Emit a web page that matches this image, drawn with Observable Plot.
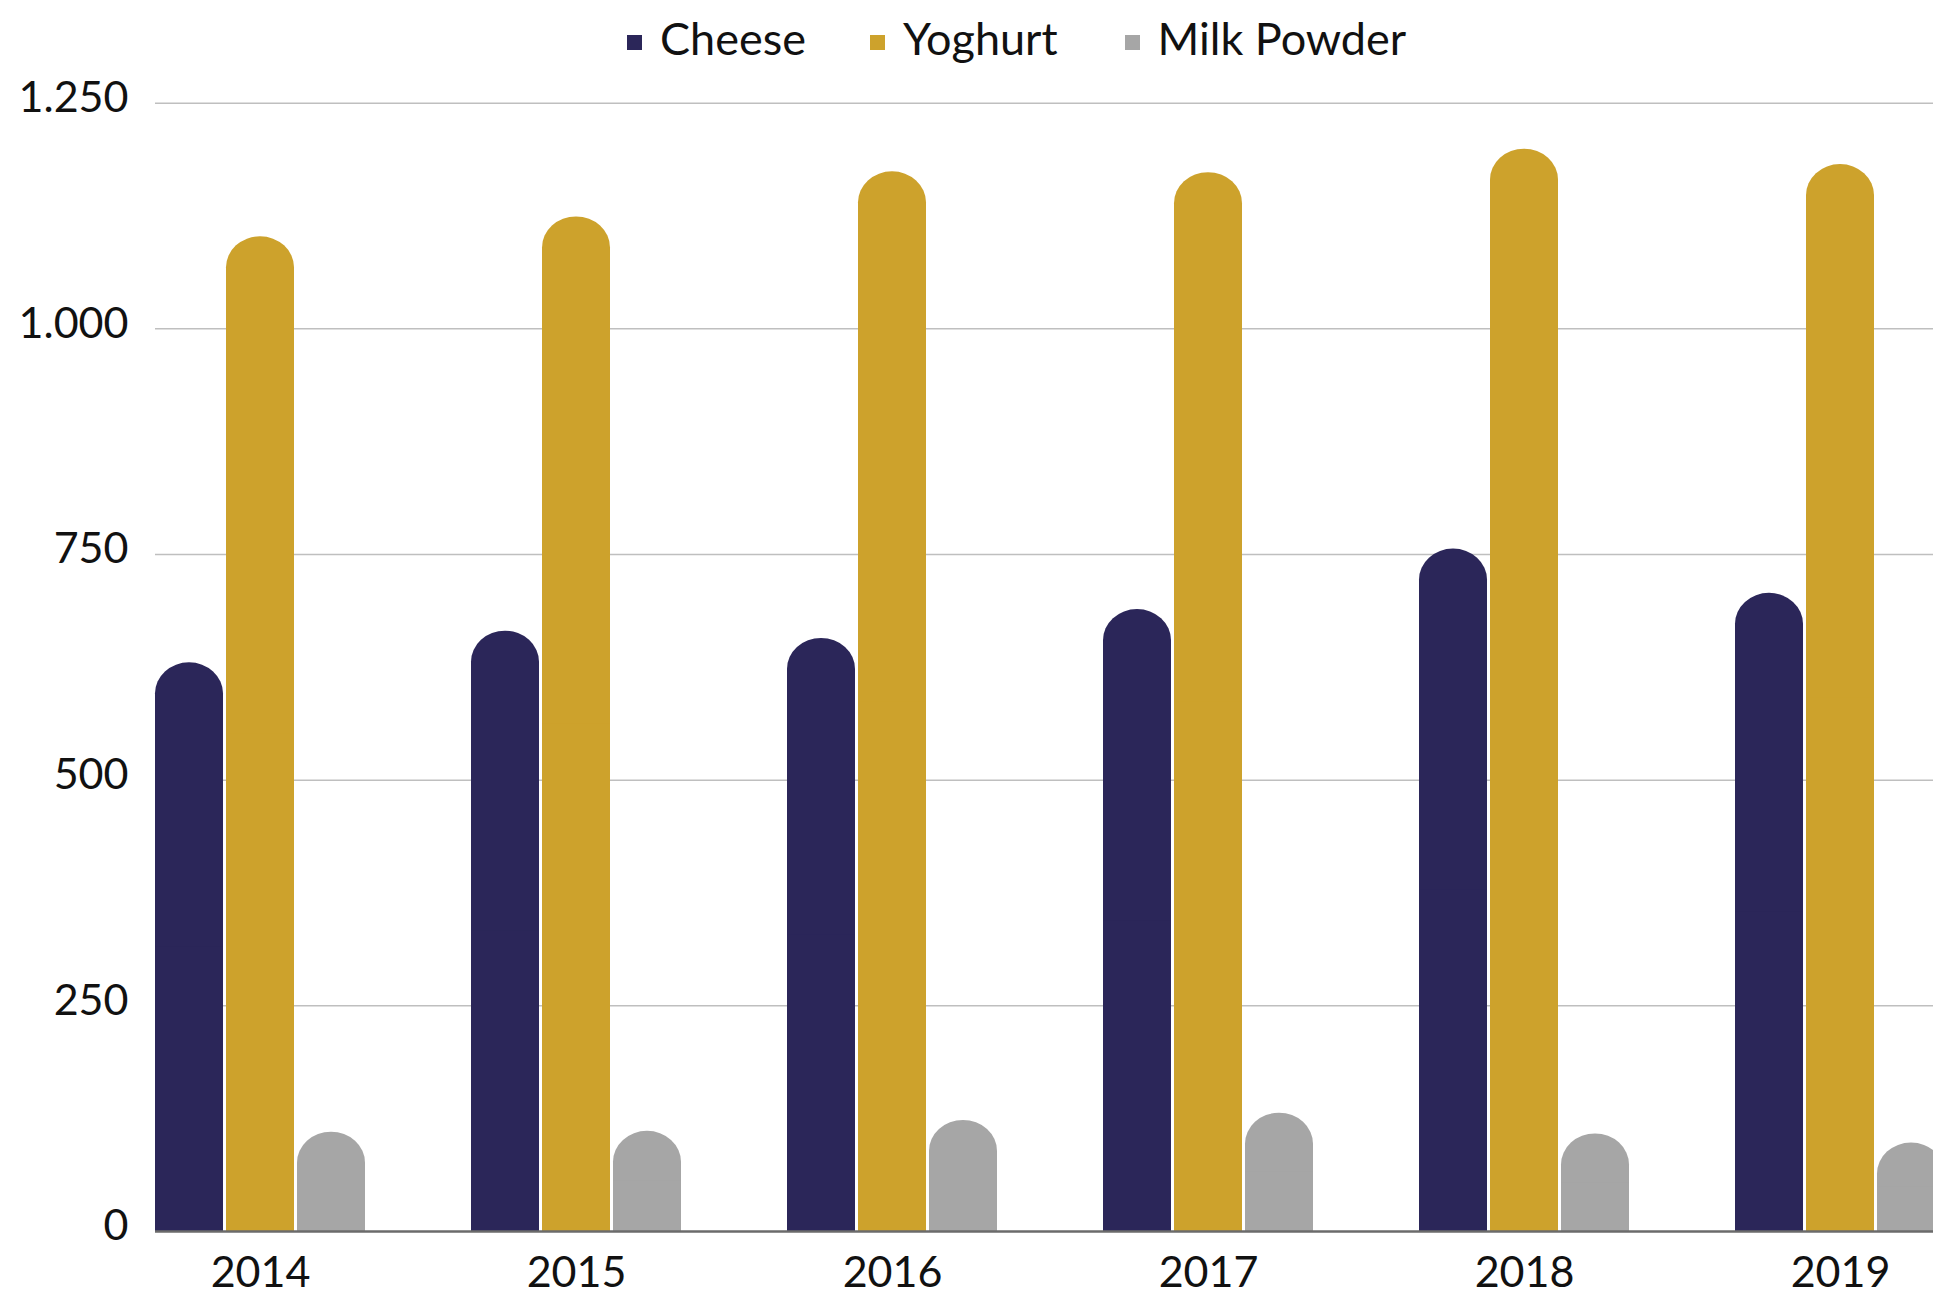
<!DOCTYPE html>
<html>
<head>
<meta charset="utf-8">
<script src="https://cdn.jsdelivr.net/npm/d3@7"></script>
<script src="https://cdn.jsdelivr.net/npm/@observablehq/plot@0.6"></script>
<style>
  html, body { margin: 0; padding: 0; background: #fff; overflow: hidden; }
  body { width: 1933px; height: 1295px; font-family: Lato, "Noto Sans", sans-serif; }
  #legend { height: 56px; padding-top: 20px; display: flex; align-items: center; justify-content: flex-start; padding-left: 627px; box-sizing: border-box; font-size: 45px; color: #111; line-height: 1; }
  .item { display: flex; align-items: center; }
  .item:nth-child(1) { margin-right: 64px; }
  .item:nth-child(2) { margin-right: 67px; }
  .sw { width: 15px; height: 15px; margin-right: 18px; margin-top: 9px; }
  #chart svg { display: block; overflow: hidden; }
</style>
</head>
<body>
<div id="legend"></div>
<div id="chart"></div>
<script>
const years = ["2014", "2015", "2016", "2017", "2018", "2019"];
const series = ["Cheese", "Yoghurt", "Milk Powder"];
const cheese = [630, 665, 657, 689, 756, 707];
const yoghurt = [1102, 1124, 1174, 1173, 1199, 1182];
const milkPowder = [110, 111, 123, 131, 108, 98];
const yTicks = [0, 250, 500, 750, 1000, 1250];
const colors = ["#2b2659", "#cda22c", "#a6a6a6"];

const valuesBySeries = [cheese, yoghurt, milkPowder];
const rows = [];
series.forEach((s, i) => years.forEach((y, j) => rows.push({year: y, series: s, value: valuesBySeries[i][j]})));

const fmt = d3.formatLocale({decimal: ",", thousands: ".", grouping: [3], currency: ["", "€"]}).format(",");

// legend
const legend = document.getElementById("legend");
series.forEach((s, i) => {
  const it = document.createElement("div");
  it.className = "item";
  const sw = document.createElement("span");
  sw.className = "sw";
  sw.style.background = colors[i];
  const t = document.createElement("span");
  t.textContent = s;
  it.appendChild(sw); it.appendChild(t);
  legend.appendChild(it);
});

const LEG = 56;
const W = 1933, H = 1295 - LEG;
const step = 316, bw = 210, gap = 3, barW = (bw - 2 * gap) / 3;
const pInner = 1 - bw / step, pOuter = pInner / 2;
const x0 = 155 - step * pOuter;
const insets = [
  {insetLeft: 0, insetRight: bw - barW},
  {insetLeft: barW + gap, insetRight: barW + gap},
  {insetLeft: bw - barW, insetRight: 0}
];

const barMarks = [];
series.forEach((s, i) => {
  const d = rows.filter(r => r.series === s);
  barMarks.push(Plot.barY(d, {x: "year", y: "value", fill: "series", rx: 34, ry: 31, ...insets[i]}));
  barMarks.push(Plot.barY(d, {x: "year", y1: 0, y2: r => r.value / 2, fill: "series", ...insets[i]}));
});

const chart = Plot.plot({
  width: W,
  height: H,
  marginLeft: 155,
  marginRight: 0,
  marginTop: 102.7 - LEG,
  marginBottom: H - (1231 - LEG),
  style: {fontFamily: "Lato, 'Noto Sans', sans-serif", fontSize: "43px", color: "#111", background: "#fff"},
  x: {domain: years, range: [x0, x0 + step * years.length], paddingInner: pInner, paddingOuter: pOuter, label: null},
  y: {domain: [0, 1250], label: null},
  color: {domain: series, range: colors},
  marks: [
    Plot.ruleY(yTicks.filter(v => v > 0), {stroke: "#bfbfbf", strokeWidth: 1.5}),
    ...barMarks,
    Plot.ruleY([0], {stroke: "#6b6b6b", strokeWidth: 2.5}),
    Plot.axisY({ticks: yTicks, tickFormat: fmt, tickSize: 0, tickPadding: 27, dy: -5, fill: "#111"}),
    Plot.axisX({tickSize: 0, tickPadding: 25, fill: "#111"})
  ]
});
document.getElementById("chart").appendChild(chart);
</script>
</body>
</html>
